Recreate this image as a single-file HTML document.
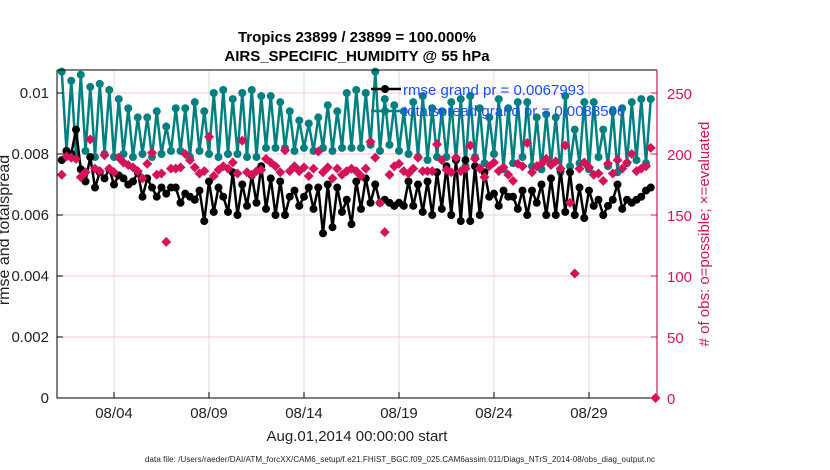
<!DOCTYPE html>
<html><head><meta charset="utf-8"><style>
body{margin:0;background:#fff;}
svg{display:block;font-family:"Liberation Sans",sans-serif;}
</style></head><body>
<svg id="chart" width="830" height="470">
<g id="grid"></g><g id="series"></g><g id="axes"></g>
</svg>
<script>
const spreadPeaks=[0.0107,0.0104,0.0106,0.0102,0.0103,0.0101,0.0098,0.0095,0.0092,0.0092,0.0094,0.0089,0.0095,0.0095,0.0097,0.0094,0.0100,0.0101,0.0098,0.0100,0.0101,
0.0099,0.0099,0.0097,0.0094,0.0091,0.0090,0.0092,0.0096,0.0094,0.0100,0.0101,0.0100,0.0107,
0.0098,0.0096,0.0094,0.0097,0.0099,0.0095,0.0094,
0.0097,0.0098,0.0099,0.0095,0.0092,0.0098,0.0095,0.0097,0.0097,0.0092,0.0093,0.0092,0.0099,0.0088,0.0097,0.0097,0.0088,0.0094,0.0095,0.0097,0.0098,0.0098];
const spreadTroughs=[0.0081,0.0080,0.0081,0.0079,0.0080,0.0079,0.0080,0.0079,0.0080,0.0079,0.0080,0.0081,0.0081,0.0079,0.0081,0.0080,0.0079,0.0080,0.0080,0.0079,0.0079,
0.0082,0.0082,0.0082,0.0081,0.0082,0.0081,0.0082,0.0081,0.0082,0.0082,0.0082,0.0083,0.0081,
0.0083,0.0081,0.0080,0.0079,0.0078,0.0079,0.0079,
0.0078,0.0076,0.0079,0.0077,0.0080,0.0075,0.0077,0.0079,0.0076,0.0075,0.0077,0.0074,0.0076,0.0077,0.0075,0.0079,0.0076,0.0074,0.0077,0.0078,0.0077];
const rmse=[0.0078,0.0081,0.0080,0.0088,0.0075,0.0071,0.0079,0.0069,0.0074,0.0072,0.0075,0.0070,0.0073,0.0072,0.0070,0.0071,0.0074,0.0066,0.0072,0.0069,
0.0066,0.0069,0.0067,0.0069,0.0069,0.0064,0.0067,0.0066,0.0065,0.0068,0.0058,0.0071,0.0061,0.0069,0.0066,0.0061,0.0074,0.0060,0.0070,0.0063,
0.0073,0.0064,0.0076,0.0062,0.0072,0.0060,0.0071,0.0060,0.0066,0.0068,0.0063,0.0066,0.0069,0.0062,0.0069,0.0054,0.0070,0.0056,0.0069,0.0061,
0.0065,0.0057,0.0071,0.0062,0.0072,0.0064,0.0070,0.0064,0.0065,0.0064,0.0063,0.0064,0.0063,0.0071,0.0063,0.0070,0.0061,0.0071,0.0060,0.0074,
0.0062,0.0076,0.0060,0.0078,0.0058,0.0078,0.0058,0.0076,0.0060,0.0074,0.0066,0.0067,0.0063,0.0068,0.0066,0.0066,0.0062,0.0068,0.0060,0.0068,
0.0064,0.0070,0.0060,0.0072,0.0060,0.0075,0.0061,0.0074,0.0060,0.0069,0.0059,0.0068,0.0063,0.0065,0.0060,0.0063,0.0065,0.0070,0.0062,0.0065,0.0064,0.0065,0.0066,0.0068,0.0069];
const obsCount=[183,198,197,196,181,185,212,188,186,199,188,185,197,193,191,189,186,180,192,201,
183,184,128,188,188,189,200,195,189,184,186,214,182,187,190,188,193,184,211,185,
183,186,187,196,193,190,185,203,186,190,186,189,182,188,202,185,189,180,188,183,
186,188,186,182,188,210,197,160,136,183,190,192,186,184,188,197,186,186,186,208,
195,187,185,197,186,188,207,196,188,181,190,193,186,189,183,178,192,190,209,185,
190,192,196,191,194,188,207,160,102,188,193,189,183,184,178,192,184,195,188,193,
200,186,188,190,205,0];
const leftTicks=[0,0.002,0.004,0.006,0.008,0.01];
const leftTickLabels=["0","0.002","0.004","0.006","0.008","0.01"];
const rightTicks=[0,50,100,150,200,250];
const xTickDays=[3,8,13,18,23,28];
const xTickLabels=["08/04","08/09","08/14","08/19","08/24","08/29"];

const L=57,R=657,T=70,B=398;
const xS=d=>L+d*19;
const yL=v=>B-v*30500;
const yR=v=>B-v*1.22;
const tOf=i=>0.25+0.25*i;
const NS="http://www.w3.org/2000/svg";
function mk(tag,attrs,parent,text){const e=document.createElementNS(NS,tag);for(const k in attrs)e.setAttribute(k,attrs[k]);if(text!==undefined)e.textContent=text;parent.appendChild(e);return e;}
const grid=document.getElementById('grid'),ser=document.getElementById('series'),ax=document.getElementById('axes');
const RED="#d5135b",TEAL="#008080";

xTickDays.forEach(d=>{const l=mk('line',{x1:xS(d),x2:xS(d),y1:T,y2:B,stroke:'#dcdcdc','stroke-width':1},grid);

});
rightTicks.slice(1).forEach(v=>{const l=mk('line',{x1:L,x2:R,y1:yR(v),y2:yR(v),stroke:'#f7c6d8','stroke-width':1},grid);

});

const spread=[];for(let i=0;i<spreadPeaks.length;i++){spread.push(spreadPeaks[i]);if(i<spreadTroughs.length)spread.push(spreadTroughs[i]);}
function lineSeries(vals,color,name){
 const pts=vals.map((v,i)=>xS(tOf(i)).toFixed(1)+','+yL(v).toFixed(1)).join(' ');
 const p=mk('polyline',{points:pts,fill:'none',stroke:color,'stroke-width':2.5},ser);
 
 
 vals.forEach((v,i)=>{const c=mk('circle',{cx:xS(tOf(i)),cy:yL(v),r:4,fill:color},ser);
 
 });
}
lineSeries(spread,TEAL,'totalspread');
lineSeries(rmse,'#000','rmse');
obsCount.forEach((v,i)=>{const x=xS(tOf(i)),y=yR(v);
 const d=mk('path',{d:`M${x-5},${y}L${x},${y-5}L${x+5},${y}L${x},${y+5}Z`,fill:RED},ser);
 
 });

mk('path',{d:`M${L},${T}H${R}M${L},${T}V${B}H${R}`,stroke:'#000','stroke-width':1,fill:'none'},ax);
mk('line',{x1:R,x2:R,y1:T,y2:B,stroke:RED,'stroke-width':1.2},ax);
leftTicks.forEach((v,i)=>{mk('line',{x1:L,x2:L+6,y1:yL(v),y2:yL(v),stroke:'#000'},ax);
 const t=mk('text',{x:L-8,y:yL(v)+5,'text-anchor':'end','font-size':15,fill:'#222'},ax,leftTickLabels[i]);
 
 });
rightTicks.forEach(v=>{mk('line',{x1:R-6,x2:R,y1:yR(v),y2:yR(v),stroke:RED},ax);
 const t=mk('text',{x:R+10,y:yR(v)+6,'font-size':15,fill:RED},ax,String(v));
 
 });
xTickDays.forEach((d,i)=>{mk('line',{x1:xS(d),x2:xS(d),y1:B,y2:B-6,stroke:'#000'},ax);
 const t=mk('text',{x:xS(d),y:418,'text-anchor':'middle','font-size':15,fill:'#222'},ax,xTickLabels[i]);
 
 });
</script>
<svg style="position:absolute;left:0;top:0" width="830" height="470">
<text x="357" y="42" text-anchor="middle" font-size="15" font-weight="bold" fill="#000" font-family="Liberation Sans, sans-serif">Tropics 23899 / 23899 = 100.000%</text>
<text x="357" y="61" text-anchor="middle" font-size="15" font-weight="bold" fill="#000" font-family="Liberation Sans, sans-serif">AIRS_SPECIFIC_HUMIDITY @ 55 hPa</text>
<text transform="translate(9,230) rotate(-90)" text-anchor="middle" font-size="16" fill="#222" font-family="Liberation Sans, sans-serif">rmse and totalspread</text>
<text transform="translate(709,234) rotate(-90)" text-anchor="middle" font-size="15" fill="#d5135b" font-family="Liberation Sans, sans-serif"># of obs: o=possible; ×=evaluated</text>
<text x="357" y="441" text-anchor="middle" font-size="15" fill="#222" font-family="Liberation Sans, sans-serif">Aug.01,2014 00:00:00 start</text>
<text x="400" y="462" text-anchor="middle" font-size="8" textLength="510" fill="#222" font-family="Liberation Sans, sans-serif">data file: /Users/raeder/DAI/ATM_forcXX/CAM6_setup/f.e21.FHIST_BGC.f09_025.CAM6assim.011/Diags_NTrS_2014-08/obs_diag_output.nc</text>
<g>
<line x1="371" x2="401" y1="89" y2="89" stroke="#000" stroke-width="2.5"/><circle cx="385" cy="89" r="4" fill="#000"/>
<line x1="371" x2="401" y1="111" y2="111" stroke="#008080" stroke-width="2.5"/><circle cx="385" cy="111" r="4" fill="#008080"/>
<text x="403" y="95" font-size="15" fill="#1a4dff" font-family="Liberation Sans, sans-serif">rmse grand pr = 0.0067993</text>
<text x="403" y="116" font-size="15" fill="#1a4dff" font-family="Liberation Sans, sans-serif">totalspread grand pr = 0.0088506</text>
</g>
</svg>
</body></html>
